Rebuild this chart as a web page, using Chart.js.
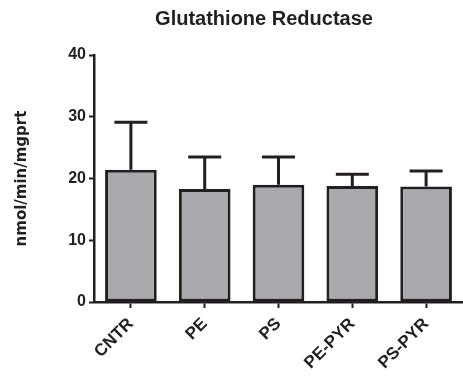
<!DOCTYPE html>
<html>
<head>
<meta charset="utf-8">
<script src="https://cdn.jsdelivr.net/npm/chart.js@4/dist/chart.umd.min.js"></script>
<style>
  html, body { margin: 0; padding: 0; background: #ffffff; }
  #wrap { width: 463px; height: 379px; }
</style>
</head>
<body>
<div id="wrap"><canvas id="c" width="463" height="379"></canvas></div>
<script>
// Glutathione reductase activity per group (mean + upper SEM)
const chartTitle = 'Glutathione Reductase';
const groups = ['CNTR', 'PE', 'PS', 'PE-PYR', 'PS-PYR'];
const means = [21.4, 18.3, 19.0, 18.8, 18.7];
const errors = [7.7, 5.2, 4.5, 1.9, 2.5];
const yTicks = [0, 10, 20, 30, 40];
const yLabel = 'nmol/min/mgprt';

const ink = '#231f20';
const barFill = '#a9a9ad';
const tickFont = { family: 'Liberation Sans, Arial, sans-serif', size: 16, weight: 'bold' };
const catFont = { family: 'Liberation Sans, Arial, sans-serif', size: 17, weight: 'bold' };

// Upward error bars with caps, drawn on top of the bars
const errorBars = {
  id: 'errorBars',
  afterDatasetsDraw(chart) {
    const ctx = chart.ctx;
    const meta = chart.getDatasetMeta(0);
    const y = chart.scales.y;
    ctx.save();
    ctx.strokeStyle = ink;
    ctx.lineWidth = 3;
    ctx.lineCap = 'butt';
    meta.data.forEach((bar, i) => {
      const x = bar.x;
      const yTop = y.getPixelForValue(means[i]);
      const yErr = y.getPixelForValue(means[i] + errors[i]);
      ctx.beginPath();
      ctx.moveTo(x, yTop);
      ctx.lineTo(x, yErr);
      ctx.moveTo(x - 16.5, yErr);
      ctx.lineTo(x + 16.5, yErr);
      ctx.stroke();
    });
    ctx.restore();
  }
};

// Chart heading, centred over the plot
const heading = {
  id: 'heading',
  afterDraw(chart) {
    const ctx = chart.ctx;
    ctx.save();
    ctx.fillStyle = ink;
    ctx.font = 'bold 20px "Liberation Sans", Arial, sans-serif';
    ctx.textAlign = 'center';
    ctx.textBaseline = 'alphabetic';
    ctx.fillText(chartTitle, 264, 25);
    ctx.restore();
  }
};

new Chart(document.getElementById('c'), {
  type: 'bar',
  data: {
    labels: groups,
    datasets: [{
      data: means,
      backgroundColor: barFill,
      borderColor: ink,
      borderWidth: 3,
      borderSkipped: false,
      categoryPercentage: 1.0,
      barPercentage: 0.7
    }]
  },
  options: {
    responsive: false,
    animation: false,
    layout: { padding: { top: 55, right: 0, bottom: 0, left: 0 } },
    plugins: {
      legend: { display: false },
      title: { display: false },
      tooltip: { enabled: false }
    },
    scales: {
      x: {
        afterFit(scale) { scale.height = 77; },
        grid: {
          offset: false,
          drawOnChartArea: false,
          drawTicks: true,
          tickLength: 6,
          tickWidth: 2,
          tickColor: ink
        },
        border: { display: true, color: ink, width: 2.5 },
        ticks: {
          color: ink,
          font: catFont,
          minRotation: 45,
          maxRotation: 45,
          padding: 6
        }
      },
      y: {
        min: 0,
        max: 40,
        afterFit(scale) { scale.width = 94; },
        afterBuildTicks(scale) { scale.ticks = yTicks.map(v => ({ value: v })); },
        grid: {
          drawOnChartArea: false,
          drawTicks: true,
          tickLength: 5,
          tickWidth: 2,
          tickColor: ink
        },
        border: { display: true, color: ink, width: 2.5 },
        ticks: {
          color: ink,
          font: tickFont,
          padding: 3
        },
        title: {
          display: true,
          text: yLabel,
          color: ink,
          font: { family: 'DejaVu Sans, sans-serif', size: 15, weight: 'bold' },
          padding: { top: 13, bottom: 0 }
        }
      }
    }
  },
  plugins: [errorBars, heading]
});
</script>
</body>
</html>
